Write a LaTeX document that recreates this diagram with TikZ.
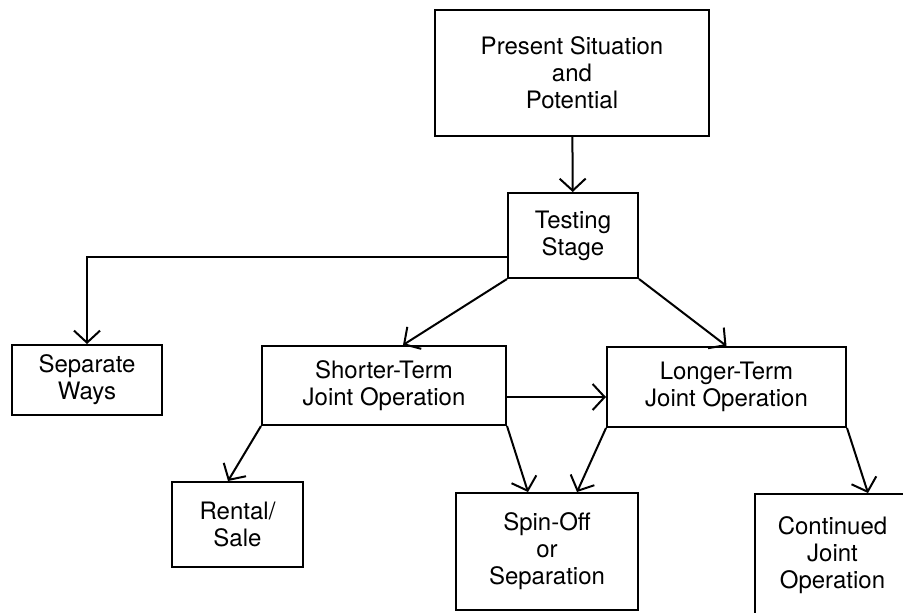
\documentclass[tikz,border=0pt]{standalone}
\usepackage{fontspec}
\setmainfont{TeX Gyre Heros}
\usetikzlibrary{arrows.meta}

\begin{document}
\begin{tikzpicture}[x=0.5pt,y=-0.5pt]
\useasboundingbox (0,0) rectangle (903,612);
%\tikzstyle{box}=[draw,line width=1pt,align=center]
\begin{scope}[every node/.style={draw=black,line width=1pt,align=center,inner sep=0pt,
                                 font=\fontsize{12}{13.5}\selectfont}]
    \node[minimum width=137pt,minimum height=63pt] (A) at (572,73) {Present Situation\\and\\Potential};
    \node[minimum width=65pt,minimum height=42.5pt] (B) at (573,235.5) {Testing\\Stage};
    \node[minimum width=75pt,minimum height=35pt] (C) at (87,380) {Separate\\Ways};
    \node[minimum width=122pt,minimum height=39.5pt] (D) at (384,385.5) {Shorter-Term\\Joint Operation};
    \node[minimum width=119.5pt,minimum height=40pt] (E) at (726.5,387) {Longer-Term\\Joint Operation};

    \node[minimum width=65.5pt,minimum height=42.5pt] (F) at (237.5,524.5) {Rental/\\Sale};
    \node[minimum width=91pt,minimum height=58.5pt] (G) at (547,551.5) {Spin-Off\\or\\Separation};
    \node[minimum width=77.5pt,minimum height=61pt] (H) at (832.5,555) {Continued\\Joint\\Operation};
\end{scope}

\begin{scope}[>={Straight Barb[length=6pt,width=13pt]},
              line width=1pt,
              every edge/.style={draw=black}]
    \path [->] (A) edge (B);
    \draw [->] ([yshift=-10.75pt]B.west) -| (C.north);
    \path [->] (B.south west) edge ([xshift=9.5pt]D.north);
    \path [->] (B.south east) edge (E.north);
    \path [->] ([yshift=-5.75pt]D.east) edge ([yshift=-5.75pt]D.east -| E.west);

    \path [->] (D.south west) edge ([xshift=-4.75pt]F.north);
    \path [->] (D.south east) edge ([xshift=-9.5pt]G.north);
    \path [->] (E.south west) edge ([xshift=15pt]G.north);
    \path [->] (E.south east) edge ([xshift=17.75pt]H.north);
\end{scope}
\end{tikzpicture}
\end{document}
